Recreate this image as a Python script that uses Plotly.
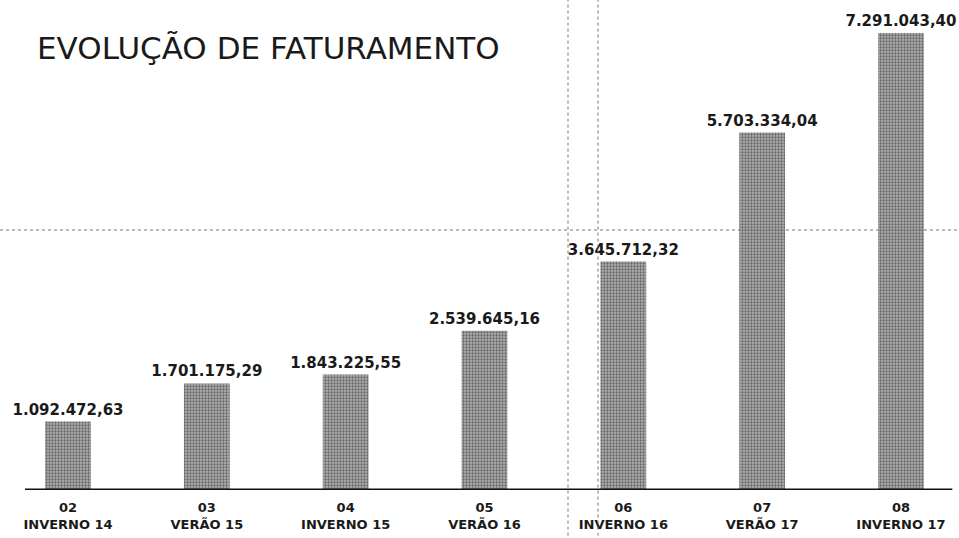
import plotly.graph_objects as go

periodos = ["02", "03", "04", "05", "06", "07", "08"]
estacoes = ["INVERNO 14", "VERÃO 15", "INVERNO 15", "VERÃO 16", "INVERNO 16", "VERÃO 17", "INVERNO 17"]
faturamento = [1092472.63, 1701175.29, 1843225.55, 2539645.16, 3645712.32, 5703334.04, 7291043.40]

def fmt_br(v):
    s = f"{v:,.2f}"
    return s.replace(",", "X").replace(".", ",").replace("X", ".")

labels = [fmt_br(v) for v in faturamento]
ticktext = [f"<b>{p}</b><br><b>{e}</b>" for p, e in zip(periodos, estacoes)]
xs = list(range(len(periodos)))

W, H = 959, 538

fig = go.Figure()
fig.add_trace(go.Bar(
    x=xs, y=faturamento, width=0.33,
    text=labels, textposition="outside", cliponaxis=False, constraintext="none",
    texttemplate="<b>%{text}</b>",
    textfont=dict(family="DejaVu Sans", size=15, color="#1a1a1a"),
    marker=dict(color="#8c8c8c", line=dict(width=0),
                pattern=dict(shape=".", fgcolor="#1a1a1a", bgcolor="#b0b0b0",
                             size=3, solidity=0.45)),
))

# baseline
fig.add_shape(type="line", xref="x", yref="y", x0=-0.31, x1=6.37, y0=0, y1=0,
              line=dict(color="#111", width=3))
# scan fold marks
for xp in [568 / W, 598 / W]:
    fig.add_shape(type="line", xref="paper", yref="paper", x0=xp, x1=xp, y0=-0.12, y1=1.03,
                  line=dict(color="#777", width=1, dash="dot"))
fig.add_shape(type="line", xref="paper", yref="paper", x0=0, x1=1,
              y0=(490 - 230) / 480, y1=(490 - 230) / 480,
              line=dict(color="#777", width=1, dash="dot"))

fig.update_layout(
    width=W, height=H,
    margin=dict(l=0, r=0, t=10, b=48),
    paper_bgcolor="white", plot_bgcolor="white",
    showlegend=False,
    title=dict(text="EVOLUÇÃO DE FATURAMENTO", x=37 / W, xanchor="left",
               y=1 - 48 / H, yanchor="middle", yref="container",
               font=dict(family="DejaVu Sans", size=31, color="#1a1a1a")),
    xaxis=dict(range=[-0.49, 6.418], tickmode="array", tickvals=xs, ticktext=ticktext,
               showgrid=False, zeroline=False, showline=False, ticks="",
               ticklabelstandoff=8,
               tickfont=dict(family="DejaVu Sans", size=13, color="#1a1a1a")),
    yaxis=dict(range=[0, 7.66e6], visible=False, showgrid=False),
)

fig.write_html("out.html", config={"displayModeBar": False},
               post_script="document.body.style.margin='0';document.documentElement.style.overflow='hidden';document.body.style.overflow='hidden';")
